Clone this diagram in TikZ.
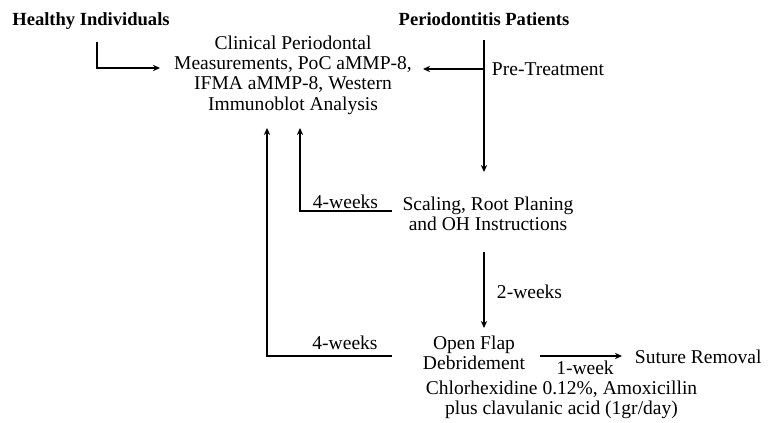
\documentclass[tikz,border=0pt]{standalone}
\usepackage{fontspec}
\setmainfont{Liberation Serif}
\usetikzlibrary{arrows.meta,calc,positioning}

\begin{document}
\begin{tikzpicture}[>={Stealth[length=5pt,width=4.5pt]},
  txt/.style={font=\fontsize{13.9}{14.4}\selectfont, align=center, inner sep=0.5pt},
  hdr/.style={font=\fontsize{13.2}{14}\selectfont\bfseries, inner sep=0.5pt},
  flow/.style={line width=0.8pt}]

\useasboundingbox (0,0) rectangle (19.275,10.575);

% =========================================================
% Groups
% =========================================================
\node[hdr] (healthy) at (2.275,10.05) {Healthy Individuals};
\node[hdr] (patients) at (12.1,10.1) {Periodontitis Patients};

% Measurements
\node[txt] (measure) at (7.325,8.7)
{Clinical Periodontal\\Measurements, PoC aMMP-8,\\IFMA aMMP-8, Western\\Immunoblot Analysis};

\node[txt, anchor=west] (pretreat) at (12.275,8.85) {Pre-Treatment};

% Treatment steps
\node[txt] (scaling) at (12.2,5.2375) {Scaling, Root Planing\\and OH Instructions};
\node[txt] (wkA) at (8.6375,5.525) {4-weeks};
\node[txt, anchor=west] (twowk) at (12.4,3.275) {2-weeks};

\node[txt] (flap) at (11.85,1.75) {Open Flap\\Debridement};
\node[txt] (wkB) at (8.625,2.0) {4-weeks};
\node[txt, anchor=west] (suture) at (15.85,1.65) {Suture Removal};
\node[txt] (onewk) at (14.625,1.37) {1-week};
\node[txt] (drugs) at (14.0375,0.57)
{Chlorhexidine 0.12\%, Amoxicillin\\plus clavulanic acid (1gr/day)};

% Bends and tips
\coordinate (hTop) at (2.425,9.525);
\coordinate (hIn) at (4.0,8.875);
\coordinate (pTop) at (12.1,9.575);
\coordinate (pIn) at (10.575,8.85);
\coordinate (sIn) at (12.1,6.275);
\coordinate (sOut) at (12.1,4.275);
\coordinate (fIn) at (12.1,2.375);
\coordinate (upA) at (7.5,7.375);
\coordinate (upB) at (6.675,7.375);
\coordinate (loopA) at (9.8,5.3);
\coordinate (loopB) at (9.8,1.675);
\coordinate (fOut) at (13.5,1.675);
\coordinate (uIn) at (15.55,1.675);

% Connectors
\draw[flow,->] (hTop) |- (hIn);
\draw[flow,->] (pTop) -- (sIn);
\draw[flow,->] (pTop |- pIn) -- (pIn);
\draw[flow,->] (loopA) -| (upA);
\draw[flow,->] (loopB) -| (upB);
\draw[flow,->] (sOut) -- (fIn);
\draw[flow,->] (fOut) -- (uIn);

\end{tikzpicture}
\end{document}
